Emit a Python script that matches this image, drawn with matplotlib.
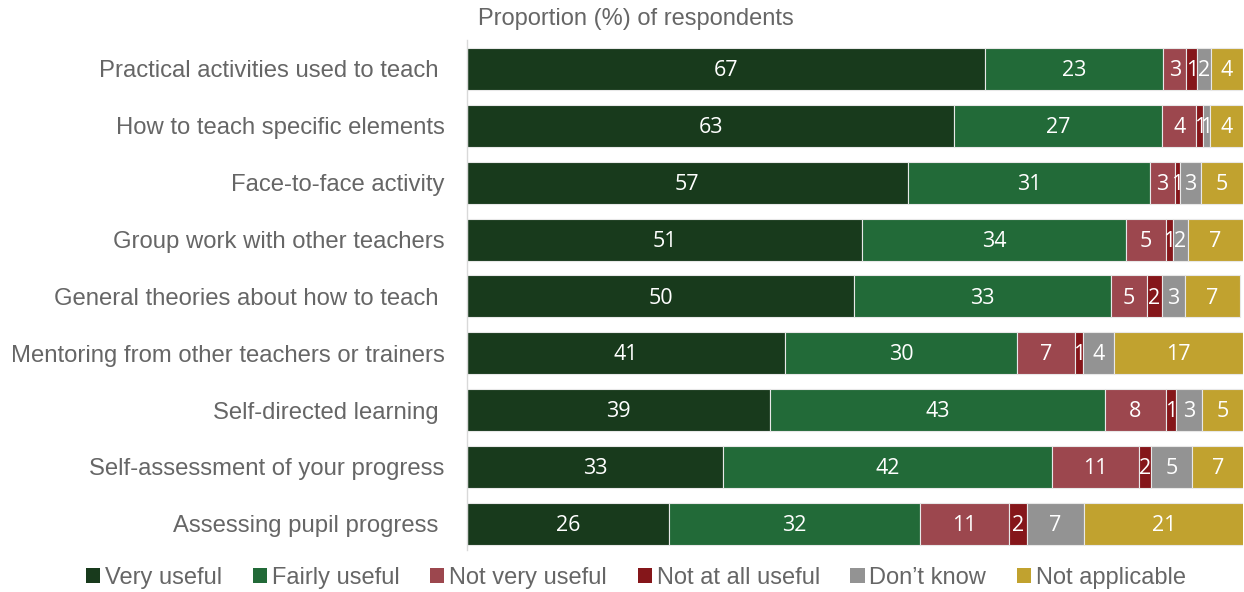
import matplotlib
matplotlib.use("Agg")
import matplotlib.pyplot as plt
from matplotlib.patches import Patch

categories = [
    "Practical activities used to teach ",
    "How to teach specific elements",
    "Face-to-face activity",
    "Group work with other teachers",
    "General theories about how to teach ",
    "Mentoring from other teachers or trainers",
    "Self-directed learning ",
    "Self-assessment of your progress",
    "Assessing pupil progress ",
]
series_names = ["Very useful", "Fairly useful", "Not very useful",
                "Not at all useful", "Don\u2019t know", "Not applicable"]
very_useful = [66.8, 62.8, 56.8, 50.9, 49.9, 41.0, 39.0, 33.0, 26.0]
fairly_useful = [22.9, 26.8, 31.2, 34.0, 33.1, 29.9, 43.2, 42.4, 32.4]
not_very_useful = [3.0, 4.4, 3.2, 5.2, 4.6, 7.4, 7.9, 11.2, 11.4]
not_at_all_useful = [1.4, 0.9, 0.7, 0.9, 2.0, 1.1, 1.3, 1.6, 2.4]
dont_know = [1.8, 0.8, 2.7, 1.9, 2.9, 4.0, 3.3, 5.2, 7.3]
not_applicable = [4.1, 4.3, 5.4, 7.1, 7.1, 16.6, 5.3, 6.7, 20.6]

series = [very_useful, fairly_useful, not_very_useful,
          not_at_all_useful, dont_know, not_applicable]
colors = ["#183a1c", "#226a38", "#9c474e", "#85161a", "#939393", "#c1a22f"]

fig = plt.figure(figsize=(12.44, 5.92), dpi=100)
ax = fig.add_axes([467 / 1244, 1 - 550 / 592, 776 / 1244, 510 / 592])
y = list(range(len(categories)))
left = [0.0] * len(categories)
for vals, col in zip(series, colors):
    bars = ax.barh(y, vals, left=left, color=col, height=0.74,
                   edgecolor="#e8e8e8", linewidth=0.8)
    for i, (b, v) in enumerate(zip(bars, vals)):
        ax.text(left[i] + v / 2, i + 0.03, f"{v:.0f}", ha="center", va="center",
                color="white", fontsize=15.5, family="Open Sans")
    left = [l + v for l, v in zip(left, vals)]

ax.set_xlim(0, 100)
ax.set_ylim(8.46, -0.51)
ax.set_yticks(y)
ax.set_yticklabels(categories, fontsize=17.2, color="#666666",
                   family="Liberation Sans")
ax.tick_params(axis="y", length=0, pad=16)
ax.set_xticks([])
for s in ["top", "right", "bottom"]:
    ax.spines[s].set_visible(False)
ax.spines["left"].set_color("#d9d9d9")
ax.spines["left"].set_linewidth(1.0)

fig.text(478 / 1244, 1 - 19 / 592, "Proportion (%) of respondents",
         ha="left", va="center", fontsize=17, color="#666666",
         family="Liberation Sans")

handles = [Patch(facecolor=c, edgecolor="none") for c in colors]
leg = fig.legend(handles, series_names, loc="center",
                 bbox_to_anchor=(636 / 1244, 1 - 578 / 592), ncol=6, frameon=False,
                 prop={"family": "Liberation Sans", "size": 17},
                 handlelength=0.6, handleheight=0.6, handletextpad=0.2,
                 columnspacing=1.3, labelcolor="#666666")

fig.savefig("out.png", dpi=100)
